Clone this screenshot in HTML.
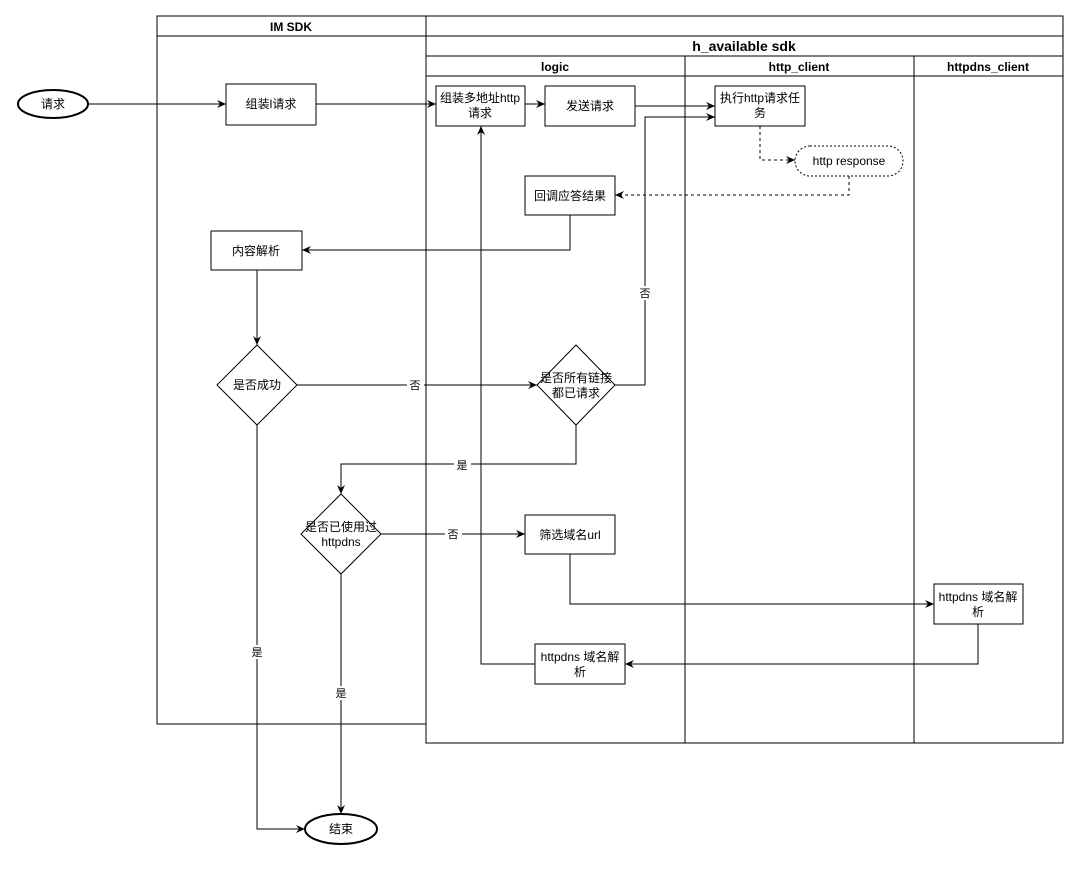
<!DOCTYPE html>
<html><head><meta charset="utf-8"><style>
html,body{margin:0;padding:0;background:#fff;}
svg text{font-family:"Liberation Sans","Noto Sans CJK SC",sans-serif;font-size:12px;fill:#000;}
</style></head><body>
<svg width="1080" height="866" viewBox="0 0 1080 866" xmlns="http://www.w3.org/2000/svg">
<defs>
<marker id="a" markerWidth="10" markerHeight="10" refX="9" refY="5" orient="auto" markerUnits="userSpaceOnUse">
<path d="M0,1 L9,5 L0,9 L3,5 Z" fill="#000"/></marker>
</defs>
<g fill="none" stroke="#000" stroke-width="1">
<!-- IM SDK pool -->
<rect x="157" y="16" width="269" height="708"/>
<line x1="157" y1="36" x2="426" y2="36"/>
<!-- h_available -->
<rect x="426" y="16" width="637" height="727"/>
<line x1="426" y1="36" x2="1063" y2="36"/>
<line x1="426" y1="56" x2="1063" y2="56"/>
<line x1="426" y1="76" x2="1063" y2="76"/>
<line x1="685" y1="56" x2="685" y2="743"/>
<line x1="914" y1="56" x2="914" y2="743"/>
<!-- nodes -->
<ellipse cx="53" cy="104" rx="35" ry="14" stroke-width="2"/>
<rect x="226" y="84" width="90" height="41"/>
<rect x="436" y="86" width="89" height="40"/>
<rect x="545" y="86" width="90" height="40"/>
<rect x="715" y="86" width="90" height="40"/>
<rect x="795" y="146" width="108" height="30" rx="15" stroke-dasharray="2,2"/>
<rect x="525" y="176" width="90" height="39"/>
<rect x="211" y="231" width="91" height="39"/>
<path d="M257,345 L297,385 L257,425 L217,385 Z"/>
<path d="M576,345 L615,385 L576,425 L537,385 Z"/>
<path d="M341,494 L381,534 L341,574 L301,534 Z"/>
<rect x="525" y="515" width="90" height="39"/>
<rect x="934" y="584" width="89" height="40"/>
<rect x="535" y="644" width="90" height="40"/>
<ellipse cx="341" cy="829" rx="36" ry="15" stroke-width="2"/>
<!-- edges -->
<path d="M88,104 H226" marker-end="url(#a)"/>
<path d="M316,104 H436" marker-end="url(#a)"/>
<path d="M525,104 H545" marker-end="url(#a)"/>
<path d="M635,106 H715" marker-end="url(#a)"/>
<path d="M760,126 V160 H795" stroke-dasharray="3,3" marker-end="url(#a)"/>
<path d="M849,176 V195 H615" stroke-dasharray="3,3" marker-end="url(#a)"/>
<path d="M570,215 V250 H302" marker-end="url(#a)"/>
<path d="M257,270 V345" marker-end="url(#a)"/>
<path d="M297,385 H537" marker-end="url(#a)"/>
<path d="M615,385 H645 V117 H715" marker-end="url(#a)"/>
<path d="M576,425 V464 H341 V494" marker-end="url(#a)"/>
<path d="M257,425 V829 H305" marker-end="url(#a)"/>
<path d="M381,534 H525" marker-end="url(#a)"/>
<path d="M341,574 V814" marker-end="url(#a)"/>
<path d="M570,554 V604 H934" marker-end="url(#a)"/>
<path d="M978,624 V664 H625" marker-end="url(#a)"/>
<path d="M535,664 H481 V126" marker-end="url(#a)"/>
</g>
<g text-anchor="middle">
<text x="291" y="31" font-weight="bold">IM SDK</text>
<text x="744" y="51" font-weight="bold" style="font-size:14px">h_available sdk</text>
<text x="555" y="71" font-weight="bold">logic</text>
<text x="799" y="71" font-weight="bold">http_client</text>
<text x="988" y="71" font-weight="bold">httpdns_client</text>
<text x="53" y="108">请求</text>
<text x="271" y="108">组装l请求</text>
<text x="480" y="102">组装多地址http</text>
<text x="480" y="117">请求</text>
<text x="590" y="110">发送请求</text>
<text x="760" y="102">执行http请求任</text>
<text x="760" y="117">务</text>
<text x="849" y="165">http response</text>
<text x="570" y="200">回调应答结果</text>
<text x="256" y="255">内容解析</text>
<text x="257" y="389">是否成功</text>
<text x="576" y="382">是否所有链接</text>
<text x="576" y="397">都已请求</text>
<text x="341" y="531">是否已使用过</text>
<text x="341" y="546">httpdns</text>
<text x="570" y="539">筛选域名url</text>
<text x="978" y="601">httpdns 域名解</text>
<text x="978" y="616">析</text>
<text x="580" y="661">httpdns 域名解</text>
<text x="580" y="676">析</text>
<text x="341" y="833">结束</text>
</g>
<g text-anchor="middle" style="font-size:11px">
<rect x="407" y="378" width="17" height="14" fill="#fff"/><text x="415" y="389" style="font-size:11px">否</text>
<rect x="637" y="286" width="17" height="14" fill="#fff"/><text x="645" y="297" style="font-size:11px">否</text>
<rect x="454" y="458" width="17" height="14" fill="#fff"/><text x="462" y="469" style="font-size:11px">是</text>
<rect x="249" y="645" width="17" height="14" fill="#fff"/><text x="257" y="656" style="font-size:11px">是</text>
<rect x="445" y="527" width="17" height="14" fill="#fff"/><text x="453" y="538" style="font-size:11px">否</text>
<rect x="333" y="686" width="17" height="14" fill="#fff"/><text x="341" y="697" style="font-size:11px">是</text>
</g>
</svg>
</body></html>
